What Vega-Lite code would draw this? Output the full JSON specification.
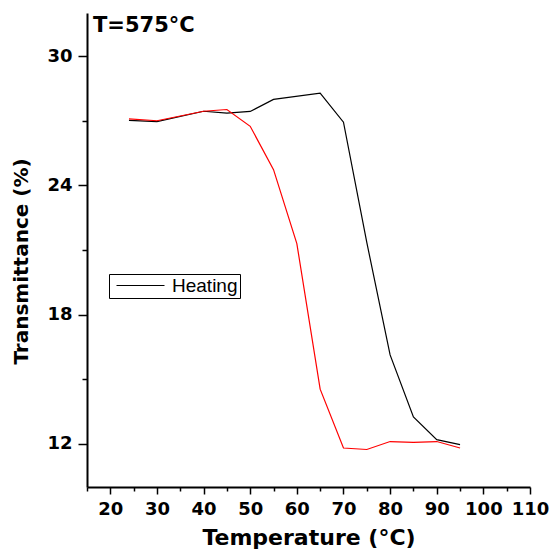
{
  "$schema": "https://vega.github.io/schema/vega-lite/v6.json",
  "width": 443,
  "height": 474,
  "autosize": {"type": "none"},
  "padding": {"left": 87, "top": 13, "right": 20, "bottom": 67},
  "background": "white",
  "title": {
    "text": "T=575°C",
    "anchor": "start",
    "frame": "group",
    "orient": "top",
    "offset": 0,
    "dx": 6,
    "dy": 40,
    "baseline": "alphabetic",
    "font": "DejaVu Sans",
    "fontWeight": "bold",
    "fontSize": 21,
    "color": "black"
  },
  "config": {
    "view": {"stroke": null},
    "axis": {
      "domainColor": "black",
      "domainWidth": 2,
      "tickColor": "black",
      "tickWidth": 1.5,
      "labelFont": "DejaVu Sans",
      "labelFontWeight": "bold",
      "labelFontSize": 18,
      "labelColor": "black",
      "titleFont": "DejaVu Sans",
      "titleFontWeight": "bold",
      "titleColor": "black",
      "grid": false
    }
  },
  "data": {
    "values": [
      {"series": "Heating", "temp": 24, "T": 27.02},
      {"series": "Heating", "temp": 30, "T": 26.96},
      {"series": "Heating", "temp": 40, "T": 27.44},
      {"series": "Heating", "temp": 45, "T": 27.35},
      {"series": "Heating", "temp": 50, "T": 27.43},
      {"series": "Heating", "temp": 55, "T": 27.99},
      {"series": "Heating", "temp": 65, "T": 28.28},
      {"series": "Heating", "temp": 70, "T": 26.93},
      {"series": "Heating", "temp": 75, "T": 21.35},
      {"series": "Heating", "temp": 80, "T": 16.13},
      {"series": "Heating", "temp": 85, "T": 13.25},
      {"series": "Heating", "temp": 90, "T": 12.2},
      {"series": "Heating", "temp": 95, "T": 11.97},
      {"series": "Cooling", "temp": 24, "T": 27.09},
      {"series": "Cooling", "temp": 30, "T": 27.0},
      {"series": "Cooling", "temp": 40, "T": 27.44},
      {"series": "Cooling", "temp": 45, "T": 27.52},
      {"series": "Cooling", "temp": 50, "T": 26.74},
      {"series": "Cooling", "temp": 55, "T": 24.73},
      {"series": "Cooling", "temp": 60, "T": 21.3},
      {"series": "Cooling", "temp": 65, "T": 14.54},
      {"series": "Cooling", "temp": 70, "T": 11.81},
      {"series": "Cooling", "temp": 75, "T": 11.74},
      {"series": "Cooling", "temp": 80, "T": 12.11},
      {"series": "Cooling", "temp": 85, "T": 12.07},
      {"series": "Cooling", "temp": 90, "T": 12.11},
      {"series": "Cooling", "temp": 95, "T": 11.81}
    ]
  },
  "mark": {"type": "line", "strokeWidth": 1.2},
  "encoding": {
    "x": {
      "field": "temp",
      "type": "quantitative",
      "scale": {"domain": [15, 110], "nice": false, "zero": false},
      "axis": {
        "title": "Temperature (°C)",
        "titleFontSize": 22,
        "titlePadding": 9,
        "values": [15, 20, 25, 30, 35, 40, 45, 50, 55, 60, 65, 70, 75, 80, 85, 90, 95, 100, 105, 110],
        "labelExpr": "datum.value % 10 == 0 ? datum.label : ''",
        "tickSize": {"expr": "datum.value % 10 == 0 ? 7 : 4"},
        "labelPadding": 6,
        "labelOverlap": false,
        "labelFlush": false
      }
    },
    "y": {
      "field": "T",
      "type": "quantitative",
      "scale": {"domain": [10, 32], "nice": false, "zero": false},
      "axis": {
        "title": "Transmittance (%)",
        "titleFontSize": 20,
        "titlePadding": 15,
        "titleY": 248,
        "values": [12, 15, 18, 21, 24, 27, 30],
        "labelExpr": "datum.value % 6 == 0 ? datum.label : ''",
        "tickSize": {"expr": "datum.value % 6 == 0 ? 9 : 5"},
        "labelPadding": 6,
        "labelOverlap": false,
        "labelFlush": false
      }
    },
    "color": {
      "field": "series",
      "type": "nominal",
      "scale": {"domain": ["Heating", "Cooling"], "range": ["black", "#ff0000"]},
      "legend": {
        "values": ["Heating"],
        "title": null,
        "orient": "none",
        "legendX": 22,
        "legendY": 261,
        "strokeColor": "black",
        "padding": 2,
        "symbolType": "M-3,0H3",
        "symbolSize": 256,
        "symbolStrokeWidth": 1,
        "symbolOffset": 20,
        "labelFont": "Liberation Sans",
        "labelFontSize": 19,
        "labelColor": "black",
        "labelOffset": 22
      }
    },
    "order": {"field": "temp", "type": "quantitative"}
  }
}
